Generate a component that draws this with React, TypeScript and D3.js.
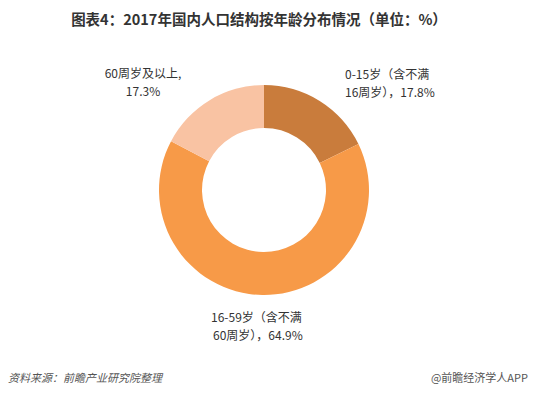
import React, { useEffect, useRef } from "react"
import * as d3 from "d3"

// data
const categories = ["0-15岁（含不满16周岁）", "16-59岁（含不满60周岁）", "60周岁及以上"]
const values = [17.8, 64.9, 17.3]
const colors = ["#C97C3C", "#F79A48", "#F9C3A3"]
const labelLines = [
	["0-15岁（含不满", "16周岁），17.8%"],
	["16-59岁（含不满", "60周岁），64.9%"],
	["60周岁及以上,", "17.3%"],
]

const W = 536
const H = 394

const App = () => {
	const ref = useRef<SVGSVGElement>(null)

	useEffect(() => {
		const svg = d3.select(ref.current)
		svg.selectAll("*").remove()

		const font = "'Microsoft YaHei', 'Noto Sans CJK SC', sans-serif"

		// title
		svg
			.append("text")
			.attr("x", 259)
			.attr("y", 25)
			.attr("text-anchor", "middle")
			.style("font-family", font)
			.style("font-size", "14.5px")
			.style("font-weight", 700)
			.attr("fill", "#333")
			.text("图表4：2017年国内人口结构按年龄分布情况（单位：%）")

		const cx = 264
		const cy = 190
		const outer = 105
		const inner = 62

		const pie = d3
			.pie<number>()
			.sort(null)
			.value(d => d)
		const arc = d3.arc<d3.PieArcDatum<number>>().innerRadius(inner).outerRadius(outer)

		const g = svg.append("g").attr("transform", `translate(${cx},${cy})`)
		g.selectAll("path")
			.data(pie(values))
			.join("path")
			.attr("d", arc)
			.attr("fill", (_, i) => colors[i])
			.append("title")
			.text((d, i) => `${categories[i]}: ${d.data}%`)

		// labels
		const labelPos = [
			{ x: 345, y: 79, anchor: "start" },
			{ x: 211, y: 322, anchor: "start" },
			{ x: 143, y: 78, anchor: "middle" },
		]
		labelLines.forEach((lines, i) => {
			const t = svg
				.append("text")
				.attr("text-anchor", labelPos[i].anchor)
				.style("font-family", font)
				.style("font-size", "12px")
				.attr("fill", "#333")
			lines.forEach((l, j) => {
				t.append("tspan")
					.attr("x", labelPos[i].x + (i === 1 && j === 1 ? 2 : 0))
					.attr("y", labelPos[i].y + j * 18)
					.text(l)
			})
		})

		// footer
		svg
			.append("text")
			.attr("x", 8)
			.attr("y", 382)
			.style("font-family", font)
			.style("font-size", "11px")
			.style("font-style", "italic")
			.attr("fill", "#555")
			.text("资料来源：前瞻产业研究院整理")
		svg
			.append("text")
			.attr("x", 528)
			.attr("y", 382)
			.attr("text-anchor", "end")
			.style("font-family", font)
			.style("font-size", "11px")
			.attr("fill", "#555")
			.text("@前瞻经济学人APP")
	}, [])

	return (
		<svg
			ref={ref}
			width={W}
			height={H}
			style={{ position: "absolute", left: 0, top: 0, background: "#fff" }}
		/>
	)
}

export default App
